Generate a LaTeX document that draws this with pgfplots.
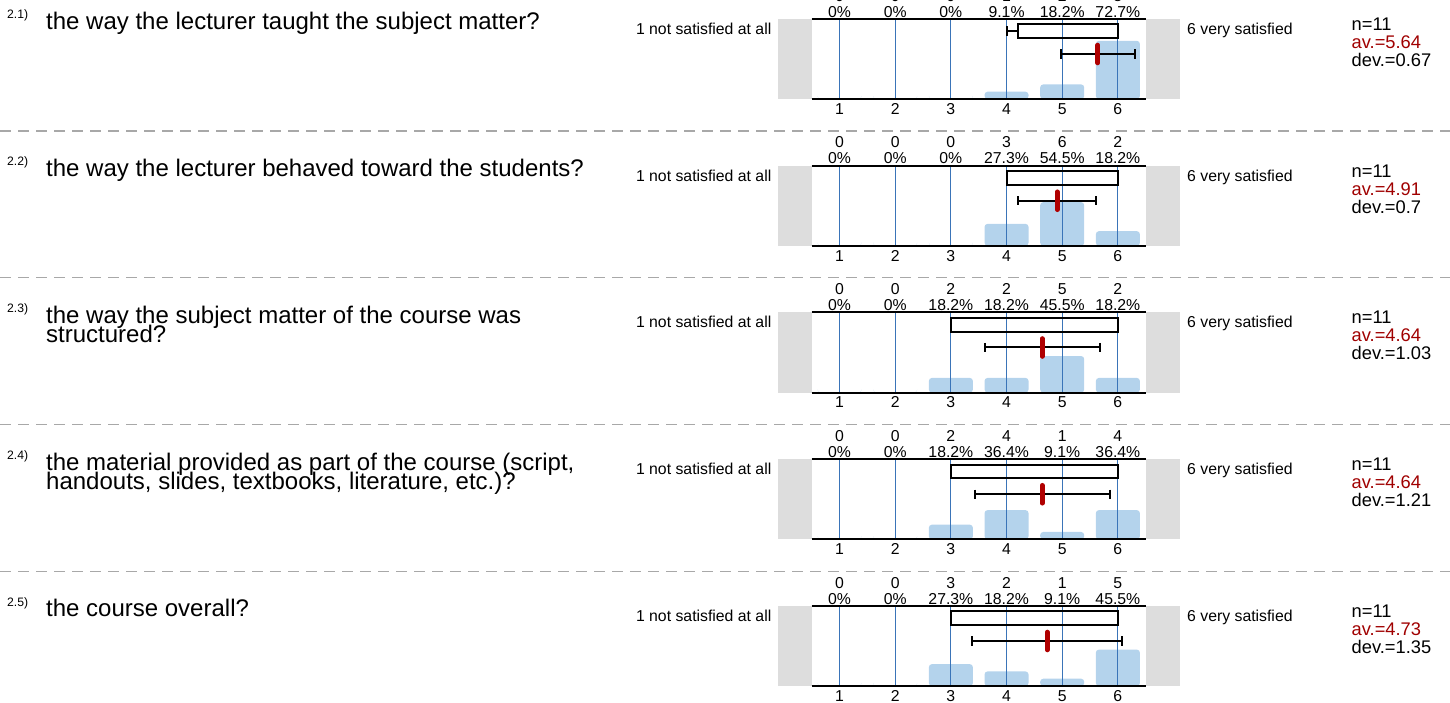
\documentclass[border=0pt]{standalone}
\usepackage{pgfplots}
\pgfplotsset{compat=1.18}
\usepackage{fontspec}
\setmainfont{Liberation Sans}
\definecolor{barblue}{HTML}{B4D3EC}
\definecolor{gridblue}{HTML}{3A74B8}
\definecolor{sidegrey}{HTML}{DDDDDD}
\definecolor{sepgrey}{HTML}{A8A8A8}
\definecolor{avred}{HTML}{A00000}
\definecolor{meanred}{HTML}{B00000}
\newcommand{\sm}{\fontsize{15.8}{18}\selectfont}
\newcommand{\stf}{\fontsize{18.3}{20}\selectfont}
\newcommand{\qf}{\fontsize{24}{20}\selectfont}
\newcommand{\supf}{\fontsize{12.2}{14}\selectfont}
\pgfplotsset{rowaxis/.style={
  width=334pt, height=80pt, scale only axis,
  xmin=0.5, xmax=6.5, ymin=0, ymax=100,
  anchor=north west, clip=false,
  axis line style={draw=none}, ytick=\empty,
  xtick={1,2,3,4,5,6}, xticklabels={1,2,3,4,5,6},
  major tick length=0pt,
  xticklabel style={font=\sm, anchor=base, inner sep=0pt, yshift=-15.3pt},
}}
% count / percent labels above a category
\newcommand{\lab}[3]{%
  \node[anchor=base,font=\sm,inner sep=0pt] at (axis cs:#1,100) [yshift=1.9pt] {#3};
  \node[anchor=base,font=\sm,inner sep=0pt] at (axis cs:#1,100) [yshift=17.9pt] {#2};}
\newcommand{\sideboxes}{%
  \fill[sidegrey] (axis cs:-0.105,0) rectangle (axis cs:0.5,100);
  \fill[sidegrey] (axis cs:6.5,0) rectangle (axis cs:7.107,100);}
\newcommand{\gridlines}{%
  \pgfplotsinvokeforeach{1,...,6}{\draw[gridblue, line width=1.2pt] (axis cs:##1,0) -- (axis cs:##1,100);}}
\newcommand{\hlines}{%
  \draw[black, line width=2pt] (axis cs:0.5,0) -- (axis cs:6.5,0);
  \draw[black, line width=2pt] (axis cs:0.5,100) -- (axis cs:6.5,100);}
\pgfplotsset{
  barsty/.style={ybar, bar width=44pt, fill=barblue, draw=none, rounded corners=3pt},
  boxsty/.style={black, line width=2pt, mark=none, line cap=rect},
  ebsty/.style={black, line width=2pt, mark=|, mark size=4.7pt, mark options={line width=2pt, solid}},
  meansty/.style={meanred, only marks, mark=|, mark size=8.8pt, mark options={line width=5pt, line cap=round}},
}
\newcommand{\sidetexts}[4]{% #1 = top y in px from top, #2 n, #3 av, #4 dev
  \node[anchor=base east,font=\sm,inner sep=0pt] at (771.5,702-#1-15.3) {1 not satisfied at all};
  \node[anchor=base west,font=\sm,inner sep=0pt] at (1187,702-#1-15.3) {6 very satisfied};
  \node[anchor=base west,font=\stf,inner sep=0pt] at (1351.5,702-#1-11.3) {n=#2};
  \node[anchor=base west,font=\stf,inner sep=0pt,text=avred] at (1351.5,702-#1-29.3) {av.=#3};
  \node[anchor=base west,font=\stf,inner sep=0pt] at (1351.5,702-#1-47.3) {dev.=#4};}
\newcommand{\qnum}[2]{% #1 top, #2 label
  \node[anchor=base west,font=\supf,inner sep=0pt] at (7,702-#1) {#2};}
\newcommand{\qline}[2]{% #1 baseline px from top, #2 text
  \node[anchor=base west,font=\qf,inner sep=0pt] at (46,702-#1) {#2};}

\begin{document}
\begin{tikzpicture}[x=1pt,y=1pt]
\useasboundingbox (0,0) rectangle (1450,702);

% separators
\foreach \yy in {131,277.75,424.5,571.25}{
  \draw[sepgrey, line width=1.5pt, dash pattern=on 11pt off 7pt] (0,702-\yy) -- (1450,702-\yy);}

% ---------------- Row 2.1 ----------------
\begin{axis}[rowaxis, at={(811.7pt,683pt)}]
\sideboxes
\addplot[barsty] coordinates {(1,0) (2,0) (3,0) (4,9.1) (5,18.2) (6,72.7)};
\gridlines
\addplot[boxsty] coordinates {(4.2,76.2) (6,76.2) (6,93.3) (4.2,93.3) (4.2,76.2)};
\addplot[ebsty] coordinates {(4,84.75) (4.2,84.75)};
\addplot[ebsty] coordinates {(4.97,56.25) (6.31,56.25)};
\addplot[meansty] coordinates {(5.64,56.25)};
\hlines
\lab{1}{0}{0\%}\lab{2}{0}{0\%}\lab{3}{0}{0\%}\lab{4}{1}{9.1\%}\lab{5}{2}{18.2\%}\lab{6}{8}{72.7\%}
\end{axis}
\sidetexts{19}{11}{5.64}{0.67}
\qnum{19}{2.1)}
\qline{29.8}{the way the lecturer taught the subject matter?}

% ---------------- Row 2.2 ----------------
\begin{axis}[rowaxis, at={(811.7pt,536.25pt)}]
\sideboxes
\addplot[barsty] coordinates {(1,0) (2,0) (3,0) (4,27.3) (5,54.5) (6,18.2)};
\gridlines
\addplot[boxsty] coordinates {(4,76.2) (6,76.2) (6,93.3) (4,93.3) (4,76.2)};
\addplot[ebsty] coordinates {(4.21,56.25) (5.61,56.25)};
\addplot[meansty] coordinates {(4.91,56.25)};
\hlines
\lab{1}{0}{0\%}\lab{2}{0}{0\%}\lab{3}{0}{0\%}\lab{4}{3}{27.3\%}\lab{5}{6}{54.5\%}\lab{6}{2}{18.2\%}
\end{axis}
\sidetexts{165.75}{11}{4.91}{0.7}
\qnum{165.75}{2.2)}
\qline{176.55}{the way the lecturer behaved toward the students?}

% ---------------- Row 2.3 ----------------
\begin{axis}[rowaxis, at={(811.7pt,389.5pt)}]
\sideboxes
\addplot[barsty] coordinates {(1,0) (2,0) (3,18.2) (4,18.2) (5,45.5) (6,18.2)};
\gridlines
\addplot[boxsty] coordinates {(3,76.2) (6,76.2) (6,93.3) (3,93.3) (3,76.2)};
\addplot[ebsty] coordinates {(3.61,56.25) (5.67,56.25)};
\addplot[meansty] coordinates {(4.64,56.25)};
\hlines
\lab{1}{0}{0\%}\lab{2}{0}{0\%}\lab{3}{2}{18.2\%}\lab{4}{2}{18.2\%}\lab{5}{5}{45.5\%}\lab{6}{2}{18.2\%}
\end{axis}
\sidetexts{312.5}{11}{4.64}{1.03}
\qnum{312.5}{2.3)}
\qline{323.3}{the way the subject matter of the course was}
\qline{342.6}{structured?}

% ---------------- Row 2.4 ----------------
\begin{axis}[rowaxis, at={(811.7pt,242.75pt)}]
\sideboxes
\addplot[barsty] coordinates {(1,0) (2,0) (3,18.2) (4,36.4) (5,9.1) (6,36.4)};
\gridlines
\addplot[boxsty] coordinates {(3,76.2) (6,76.2) (6,93.3) (3,93.3) (3,76.2)};
\addplot[ebsty] coordinates {(3.43,56.25) (5.85,56.25)};
\addplot[meansty] coordinates {(4.64,56.25)};
\hlines
\lab{1}{0}{0\%}\lab{2}{0}{0\%}\lab{3}{2}{18.2\%}\lab{4}{4}{36.4\%}\lab{5}{1}{9.1\%}\lab{6}{4}{36.4\%}
\end{axis}
\sidetexts{459.25}{11}{4.64}{1.21}
\qnum{459.25}{2.4)}
\qline{470.05}{the material provided as part of the course (script,}
\qline{489.35}{handouts, slides, textbooks, literature, etc.)?}

% ---------------- Row 2.5 ----------------
\begin{axis}[rowaxis, at={(811.7pt,96pt)}]
\sideboxes
\addplot[barsty] coordinates {(1,0) (2,0) (3,27.3) (4,18.2) (5,9.1) (6,45.5)};
\gridlines
\addplot[boxsty] coordinates {(3,76.2) (6,76.2) (6,93.3) (3,93.3) (3,76.2)};
\addplot[ebsty] coordinates {(3.38,56.25) (6.08,56.25)};
\addplot[meansty] coordinates {(4.73,56.25)};
\hlines
\lab{1}{0}{0\%}\lab{2}{0}{0\%}\lab{3}{3}{27.3\%}\lab{4}{2}{18.2\%}\lab{5}{1}{9.1\%}\lab{6}{5}{45.5\%}
\end{axis}
\sidetexts{606}{11}{4.73}{1.35}
\qnum{606}{2.5)}
\qline{616.8}{the course overall?}
\end{tikzpicture}
\end{document}
